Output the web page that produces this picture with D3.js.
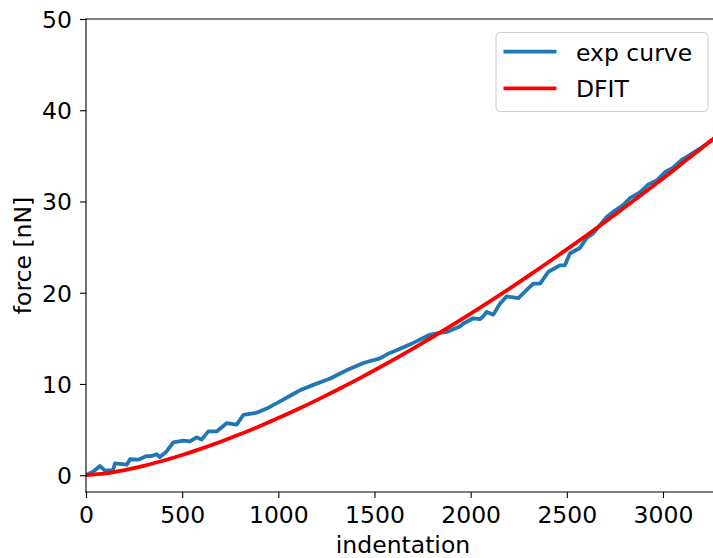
<!DOCTYPE html>
<html>
<head>
<meta charset="utf-8">
<script src="https://cdn.jsdelivr.net/npm/d3@7"></script>
<style>
  html, body { margin: 0; padding: 0; background: #fff; }
  svg { display: block; }
  text { font-family: "DejaVu Sans", sans-serif; fill: #000; }
</style>
</head>
<body>
<script>
// ---- data ----
const expX = [0, 38, 73, 99, 140, 151, 212, 229, 272, 315, 341, 367, 384, 419, 454, 506, 540, 575, 601, 636, 679, 731, 783, 818, 887, 939, 1009, 1078, 1112, 1182, 1270, 1355, 1442, 1528, 1580, 1615, 1701, 1788, 1875, 1944, 1961, 2013, 2048, 2065, 2083, 2118, 2152, 2187, 2248, 2291, 2326, 2361, 2404, 2464, 2490, 2516, 2568, 2603, 2637, 2672, 2707, 2750, 2793, 2830, 2880, 2920, 2967, 3010, 3053, 3100, 3140, 3200, 3253];
const expY = [0, 0.4, 1.0, 0.5, 0.55, 1.3, 1.15, 1.75, 1.7, 2.1, 2.1, 2.3, 2.0, 2.6, 3.6, 3.8, 3.7, 4.15, 3.9, 4.8, 4.8, 5.7, 5.55, 6.6, 6.85, 7.3, 8.1, 8.9, 9.3, 9.9, 10.6, 11.5, 12.3, 12.8, 13.4, 13.7, 14.5, 15.4, 15.7, 16.3, 16.6, 17.2, 17.1, 17.4, 17.9, 17.6, 18.8, 19.6, 19.4, 20.3, 21.0, 21.0, 22.3, 23.0, 23.0, 24.3, 24.9, 26.0, 26.5, 27.4, 28.3, 29.0, 29.6, 30.4, 31.0, 31.8, 32.3, 33.2, 33.7, 34.6, 35.1, 35.9, 36.7];
const fitX = [0, 100, 200, 300, 400, 500, 600, 700, 800, 900, 1000, 1100, 1200, 1300, 1400, 1500, 1600, 1700, 1800, 1900, 2000, 2100, 2200, 2300, 2400, 2500, 2600, 2700, 2800, 2900, 3000, 3100, 3200, 3260];
const fitY = [0, 0.20, 0.56, 1.03, 1.58, 2.21, 2.91, 3.67, 4.48, 5.35, 6.26, 7.22, 8.23, 9.28, 10.37, 11.50, 12.67, 13.88, 15.12, 16.40, 17.71, 19.05, 20.43, 21.84, 23.28, 24.75, 26.25, 27.78, 29.34, 30.92, 32.53, 34.18, 35.84, 36.85];
const xTicks = [0, 500, 1000, 1500, 2000, 2500, 3000];
const yTicks = [0, 10, 20, 30, 40, 50];
const seriesNames = ["exp curve", "DFIT"];
const seriesColors = ["#1f77b4", "#ff0000"];

(function () {
// ---- layout ----
const W = 713, H = 558;
const pLeft = 86, pTop = 19, pBottom = 492, pRight = 713;
const FS = 23.5;

const svg = d3.select("body").append("svg").attr("width", W).attr("height", H);

const x = d3.scaleLinear().domain([0, 3260]).range([pLeft, pRight]);
const y = d3.scaleLinear().domain([-1.84, 50]).range([pBottom, pTop]);

svg.append("clipPath").attr("id", "plotclip").append("rect")
  .attr("x", pLeft).attr("y", pTop).attr("width", pRight - pLeft + 5).attr("height", pBottom - pTop);

const line = d3.line().x(d => x(d[0])).y(d => y(d[1]));
const g = svg.append("g").attr("clip-path", "url(#plotclip)");
g.append("path").datum(expX.map((v, i) => [v, expY[i]]))
  .attr("d", line).attr("fill", "none").attr("stroke", seriesColors[0])
  .attr("stroke-width", 3.8).attr("stroke-linejoin", "round").attr("stroke-linecap", "square");
g.append("path").datum(fitX.map((v, i) => [v, fitY[i]]))
  .attr("d", d3.line().curve(d3.curveMonotoneX).x(d => x(d[0])).y(d => y(d[1])))
  .attr("fill", "none").attr("stroke", seriesColors[1])
  .attr("stroke-width", 3.8).attr("stroke-linecap", "square");

// axes
const xAxis = d3.axisBottom(x).tickValues(xTicks).tickSize(6).tickPadding(8).tickFormat(d3.format("d"));
const yAxis = d3.axisLeft(y).tickValues(yTicks).tickSize(6).tickPadding(8).tickFormat(d3.format("d"));
const gx = svg.append("g").attr("transform", `translate(0,${pBottom})`).call(xAxis);
const gy = svg.append("g").attr("transform", `translate(${pLeft},0)`).call(yAxis);
[gx, gy].forEach(a => {
  a.select(".domain").remove();
  a.selectAll(".tick line").attr("stroke", "#000").attr("stroke-width", 1.1);
  a.selectAll(".tick text").style("font-size", FS + "px").style("font-family", "DejaVu Sans");
});
gx.selectAll(".tick text").attr("dy", "0.71em");
gy.selectAll(".tick text").attr("dy", "0.36em");

// spines
svg.append("line").attr("x1", pLeft).attr("x2", pLeft).attr("y1", pTop).attr("y2", pBottom)
  .attr("stroke", "#000").attr("stroke-width", 1.1).attr("stroke-linecap", "square");
svg.append("line").attr("x1", pLeft).attr("x2", W).attr("y1", pBottom).attr("y2", pBottom)
  .attr("stroke", "#000").attr("stroke-width", 1.1).attr("stroke-linecap", "square");
svg.append("line").attr("x1", pLeft).attr("x2", W).attr("y1", pTop).attr("y2", pTop)
  .attr("stroke", "#000").attr("stroke-width", 1.1).attr("stroke-linecap", "square");

// axis labels
svg.append("text").attr("x", 403).attr("y", 553)
  .attr("text-anchor", "middle").style("font-size", FS + "px").text("indentation");
svg.append("text").attr("transform", `translate(31,${(pTop + pBottom) / 2}) rotate(-90)`)
  .attr("text-anchor", "middle").style("font-size", FS + "px").text("force [nN]");

// legend
const lg = svg.append("g");
lg.append("rect").attr("x", 496).attr("y", 32.5).attr("width", 212).attr("height", 79)
  .attr("rx", 4).attr("fill", "#fff").attr("fill-opacity", 0.8).attr("stroke", "#cccccc").attr("stroke-width", 1);
seriesNames.forEach((n, i) => {
  const yy = 51.7 + i * 36.6;
  lg.append("line").attr("x1", 503.5).attr("x2", 556.5).attr("y1", yy).attr("y2", yy)
    .attr("stroke", seriesColors[i]).attr("stroke-width", 3.8);
  lg.append("text").attr("x", 576).attr("y", yy + 9).style("font-size", FS + "px").text(n);
});
})();
</script>
</body>
</html>
